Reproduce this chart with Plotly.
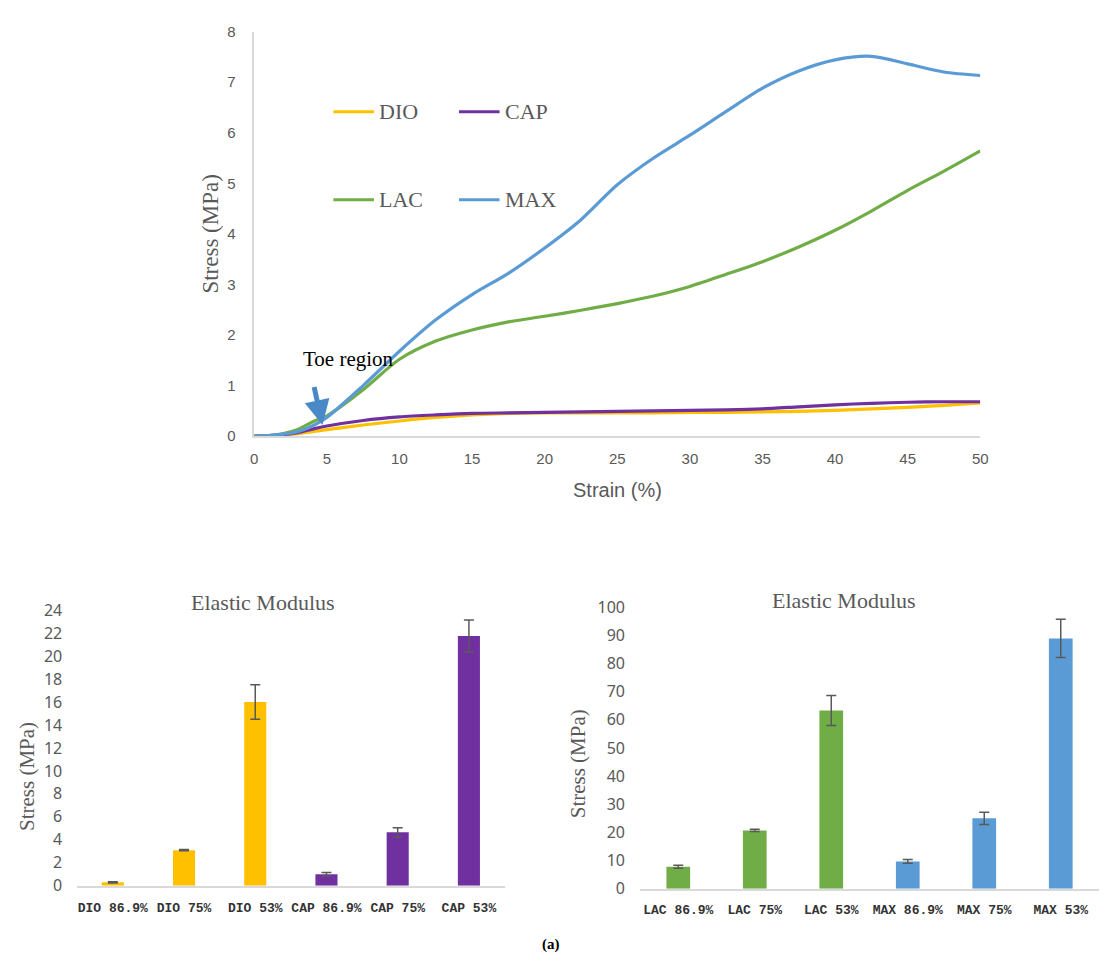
import plotly.graph_objects as go

# Stress-strain curves
strain = [0, 1, 2, 3, 4, 5, 7.5, 10, 12.5, 15, 17.5, 20, 22.5, 25, 27.5, 30,
          32.5, 35, 37.5, 40, 42.5, 45, 47.5, 50]
dio = [0, 0, 0.02, 0.05, 0.09, 0.13, 0.22, 0.30, 0.37, 0.42, 0.45, 0.46, 0.46,
       0.46, 0.46, 0.47, 0.47, 0.48, 0.49, 0.51, 0.54, 0.57, 0.61, 0.66]
cap = [0, 0.01, 0.03, 0.07, 0.14, 0.20, 0.31, 0.38, 0.42, 0.45, 0.46, 0.47, 0.48,
       0.49, 0.50, 0.51, 0.52, 0.54, 0.58, 0.62, 0.65, 0.67, 0.68, 0.68]
lac = [0, 0.01, 0.05, 0.13, 0.28, 0.40, 0.92, 1.52, 1.88, 2.10, 2.26, 2.37, 2.49,
       2.62, 2.77, 2.96, 3.20, 3.45, 3.74, 4.07, 4.45, 4.86, 5.24, 5.64]
mx = [0, 0.01, 0.04, 0.09, 0.20, 0.37, 1.00, 1.68, 2.30, 2.80, 3.22, 3.72, 4.28,
      4.97, 5.50, 5.95, 6.42, 6.88, 7.22, 7.44, 7.51, 7.36, 7.20, 7.13]

series_names = ["DIO", "CAP", "LAC", "MAX"]
colors = {"DIO": "#FFC000", "CAP": "#7030A0", "LAC": "#70AD47", "MAX": "#5B9BD5"}

# Elastic modulus bars
left_cats = ["DIO 86.9%", "DIO 75%", "DIO 53%", "CAP 86.9%", "CAP 75%", "CAP 53%"]
left_vals = [0.3, 3.1, 16.0, 1.0, 4.65, 21.75]
left_err = [0.05, 0.05, 1.5, 0.15, 0.4, 1.4]
left_cols = ["#FFC000"] * 3 + ["#7030A0"] * 3

right_cats = ["LAC 86.9%", "LAC 75%", "LAC 53%", "MAX 86.9%", "MAX 75%", "MAX 53%"]
right_vals = [7.8, 20.7, 63.3, 9.7, 25.0, 88.9]
right_err = [0.5, 0.4, 5.3, 0.7, 2.2, 6.8]
right_cols = ["#70AD47"] * 3 + ["#5B9BD5"] * 3

W, H = 1107, 973
def px(x):
    return x / W
def py(y):
    return 1 - y / H

GRAY = "#595959"
AXIS = "#D9D9D9"
SERIF = "Liberation Serif"
SANS = "Liberation Sans"

fig = go.Figure()

curve_data = {"DIO": dio, "CAP": cap, "LAC": lac, "MAX": mx}
for name in series_names:
    fig.add_trace(go.Scatter(
        x=strain, y=curve_data[name], mode="lines", name=name,
        line=dict(color=colors[name], width=3.2, shape="spline", smoothing=0.8),
        xaxis="x", yaxis="y", showlegend=False))

fig.add_trace(go.Bar(
    x=left_cats, y=left_vals, marker=dict(color=left_cols, line=dict(width=0)),
    error_y=dict(type="data", array=left_err, color=GRAY, thickness=1.5, width=5),
    xaxis="x2", yaxis="y2", showlegend=False))

fig.add_trace(go.Bar(
    x=right_cats, y=right_vals, marker=dict(color=right_cols, line=dict(width=0)),
    error_y=dict(type="data", array=right_err, color=GRAY, thickness=1.5, width=5),
    xaxis="x3", yaxis="y3", showlegend=False))

tick_font_top = dict(family=SANS, size=15, color=GRAY)
tick_font_bot = dict(family="Noto Sans", size=16, color=GRAY)
cat_font = dict(family="Liberation Mono", size=13, color="#333333", weight="bold")

fig.update_layout(
    width=W, height=H, margin=dict(l=0, r=0, t=0, b=0),
    paper_bgcolor="white", plot_bgcolor="white",
    bargap=0.69,
    xaxis=dict(domain=[px(253), px(987)], range=[0, 50], tickvals=list(range(0, 51, 5)),
               showgrid=False, zeroline=False, showline=True, linecolor=AXIS, linewidth=1.5,
               ticks="", tickfont=tick_font_top, ticklabelstandoff=8, anchor="y"),
    yaxis=dict(domain=[py(435), py(21)], range=[0, 8], dtick=1,
               showgrid=False, zeroline=False, showline=True, linecolor=AXIS, linewidth=1.5,
               ticks="", tickfont=tick_font_top, ticklabelstandoff=14, anchor="x"),
    xaxis2=dict(domain=[px(74), px(506)], showgrid=False, zeroline=False, showline=True,
                linecolor=AXIS, linewidth=1.5, ticks="", tickfont=cat_font, tickangle=0,
                ticklabelstandoff=9, anchor="y2"),
    yaxis2=dict(domain=[py(895), py(613)], range=[0, 24], dtick=2, showgrid=False,
                zeroline=False, showline=False, ticks="", tickfont=tick_font_bot,
                ticklabelstandoff=14, anchor="x2"),
    xaxis3=dict(domain=[px(643), 1.0], showgrid=False, zeroline=False, showline=True,
                linecolor=AXIS, linewidth=1.5, ticks="", tickfont=cat_font, tickangle=0,
                ticklabelstandoff=8, anchor="y3"),
    yaxis3=dict(domain=[py(898), py(610)], range=[0, 100], dtick=10, showgrid=False,
                zeroline=False, showline=False, ticks="", tickfont=tick_font_bot,
                ticklabelstandoff=14, anchor="x3"),
)

annotations = [
    # axis titles of the stress-strain plot
    dict(x=px(620), y=py(490), text="Strain (%)", font=dict(family=SANS, size=20, color=GRAY)),
    dict(x=px(209), y=py(228), text="Stress (MPa)", textangle=-90,
         font=dict(family=SERIF, size=23, color=GRAY)),
    # bar chart titles and axis titles
    dict(x=px(262), y=py(605), text="Elastic Modulus", font=dict(family=SERIF, size=22, color=GRAY)),
    dict(x=px(24), y=py(783), text="Stress (MPa)", textangle=-90,
         font=dict(family=SERIF, size=21, color=GRAY)),
    dict(x=px(849), y=py(603), text="Elastic Modulus", font=dict(family=SERIF, size=22, color=GRAY)),
    dict(x=px(580), y=py(770), text="Stress (MPa)", textangle=-90,
         font=dict(family=SERIF, size=21, color=GRAY)),
    # caption
    dict(x=px(553), y=py(955), text="<b>(a)</b>", font=dict(family=SERIF, size=15, color="black")),
]
for a in annotations:
    a.update(xref="paper", yref="paper", showarrow=False, xanchor="center", yanchor="middle")
    fig.add_annotation(**a)

# "Toe region" label with pointer arrow
fig.add_annotation(x=6.5, y=1.52, xref="x", yref="y", text="Toe region", showarrow=False,
                   font=dict(family=SERIF, size=21, color="black"))
fig.add_annotation(x=4.7, y=0.22, xref="x", yref="y", ax=4.1, ay=1.0, axref="x", ayref="y",
                   text="", showarrow=True, arrowhead=2, arrowsize=1.0, arrowwidth=5,
                   arrowcolor="#4A89C8")

# legend for the curves, laid out in two rows of two entries
legend_pos = {"DIO": (333, 103), "CAP": (460, 103), "LAC": (333, 193), "MAX": (460, 193)}
for name in series_names:
    lx, ly = legend_pos[name]
    fig.add_shape(type="line", xref="paper", yref="paper",
                  x0=px(lx), x1=px(lx + 41), y0=py(ly), y1=py(ly),
                  line=dict(color=colors[name], width=3))
    fig.add_annotation(x=px(lx + 44), y=py(ly), xref="paper", yref="paper", text=name,
                       showarrow=False, xanchor="left", yanchor="middle",
                       font=dict(family=SERIF, size=22, color=GRAY))

fig.write_html("out.html")
